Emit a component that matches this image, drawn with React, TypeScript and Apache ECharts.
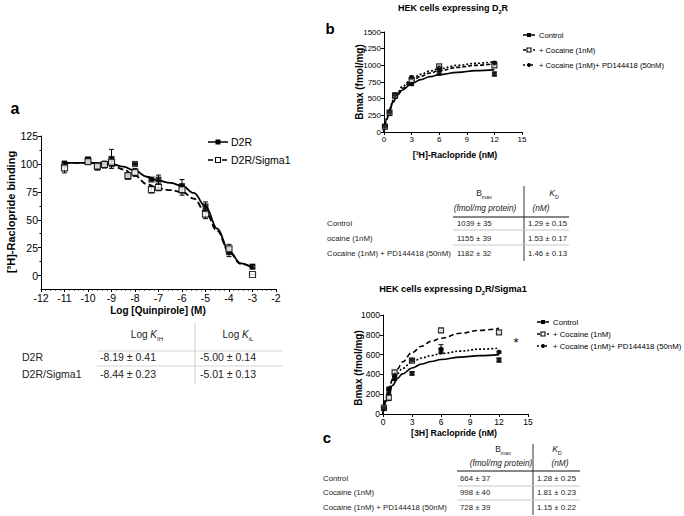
import React, { useEffect, useRef } from "react";
import * as echarts from "echarts";

const FONT = '"Liberation Sans", Arial, Helvetica, sans-serif';

// ---------- Panel a: competition binding ----------
const aX = [-11, -10, -9.6, -9.3, -9, -8.3, -8, -7.3, -7, -6, -5, -4, -3];
const aD2R = [100, 104, 97, 99, 104.5, 88.5, 100, 86, 86, 80, 62, 21, 8];
const aD2RErr = [2.5, 2, 2.5, 2.5, 8.5, 2, 0, 1, 4, 6, 4, 4, 2];
const aSigma = [96.5, 102, 98, 99.5, 101.5, 89.5, 92.5, 77, 79, 77, 55, 24, 1];
const aSigmaErr = [4.5, 2, 2, 3, 4, 2, 3.5, 3, 3, 5, 4, 4, 0];
const aFitX = [-11, -10, -9.5, -9, -8.5, -8, -7.5, -7, -6.5, -6, -5.5, -5, -4.5, -4, -3.5, -3];
const aFitD2R = [101, 101, 100.8, 100, 97.5, 94, 88.5, 85, 83, 80.5, 74, 62, 42, 22, 11, 7];
const aFitSigma = [101, 101, 100.5, 99, 95, 89.5, 82, 78, 76.5, 75, 69, 57, 40, 21, 10.5, 7];
const aYTicks = [0, 25, 50, 75, 100, 125];
const aYMinorTicks = [12.5, 37.5, 62.5, 87.5, 112.5];

// ---------- Panel b: saturation binding, D2R ----------
const satX = [0.1, 0.6, 1.2, 3, 6, 12];
const bControl = [75, 275, 535, 725, 885, 870];
const bControlErr = [10, 15, 20, 25, 30, 30];
const bCocaine = [80, 290, 550, 780, 985, 1000];
const bCocaineErr = [10, 15, 20, 25, 20, 25];
const bPD = [90, 300, 560, 820, 960, 1035];
const bPDErr = [10, 15, 20, 20, 25, 20];
const fitX = [0, 0.3, 0.6, 1, 1.5, 2, 3, 4, 5, 6, 8, 10, 12];
const bFitControl = [0, 190, 330, 450, 560, 630, 725, 785, 830, 860, 895, 920, 935];
const bFitCocaine = [0, 190, 325, 455, 570, 655, 765, 835, 885, 920, 970, 1000, 1025];
const bFitPD = [0, 200, 345, 480, 600, 685, 795, 865, 915, 950, 1000, 1030, 1055];

// ---------- Panel b (lower): saturation binding, D2R/Sigma1 ----------
const cControl = [55, 230, 360, 410, 640, 545];
const cControlErr = [15, 30, 20, 15, 25, 20];
const cCocaine = [65, 165, 420, 540, 845, 825];
const cCocaineErr = [10, 30, 15, 15, 20, 15];
const cPD = [60, 255, 390, 545, 655, 625];
const cPDErr = [10, 15, 15, 10, 45, 10];
const cFitControl = [0, 125, 210, 290, 360, 405, 465, 505, 530, 550, 575, 590, 600];
const cFitCocaine = [0, 140, 250, 355, 455, 525, 620, 685, 735, 765, 815, 845, 865];
const cFitPD = [0, 150, 250, 340, 410, 460, 525, 565, 590, 610, 635, 655, 665];

// ---------- Tables ----------
const tableARows = ["D2R", "D2R/Sigma1"];
const tableAKiH = ["-8.19 ± 0.41", "-8.44 ± 0.23"];
const tableAKiL = ["-5.00 ± 0.14", "-5.01 ± 0.13"];
const tableBRows = ["Control", "ocaine (1nM)", "Cocaine (1nM) + PD144418 (50nM)"];
const tableBBmax = ["1039 ± 35", "1155 ± 39", "1182 ± 32"];
const tableBKd = ["1.29 ± 0.15", "1.53 ± 0.17", "1.46 ± 0.13"];
const tableCRows = ["Control", "Cocaine (1nM)", "Cocaine (1nM) + PD144418 (50nM)"];
const tableCBmax = ["664 ± 37", "998 ± 40", "728 ± 39"];
const tableCKd = ["1.28 ± 0.25", "1.81 ± 0.23", "1.15 ± 0.22"];

const legendA = ["D2R", "D2R/Sigma1"];
const legendB = ["Control", "+ Cocaine (1nM)", "+ Cocaine (1nM)+ PD144418 (50nM)"];

const zip = (xs: number[], ys: number[]) => xs.map((x, i) => [x, ys[i]]);
const zip3 = (xs: number[], ys: number[], es: number[]) => xs.map((x, i) => [x, ys[i], es[i]]);

function errSeries(xi: number, data: number[][]) {
  return {
    type: "custom",
    xAxisIndex: xi,
    yAxisIndex: xi,
    z: 2,
    silent: true,
    encode: { x: 0, y: 1 },
    data,
    renderItem: (params: any, api: any) => {
      const x = api.value(0);
      const y = api.value(1);
      const e = api.value(2);
      const t = api.coord([x, y + e]);
      const b = api.coord([x, y - e]);
      const w = 2.5;
      const st = { stroke: "#000", lineWidth: 1 };
      return {
        type: "group",
        children: [
          { type: "line", shape: { x1: t[0], y1: t[1], x2: b[0], y2: b[1] }, style: st },
          { type: "line", shape: { x1: t[0] - w, y1: t[1], x2: t[0] + w, y2: t[1] }, style: st },
          { type: "line", shape: { x1: b[0] - w, y1: b[1], x2: b[0] + w, y2: b[1] }, style: st },
        ],
      };
    },
  };
}

type Kind = "filled" | "open" | "circle";
function markerStyle(kind: Kind) {
  if (kind === "open") return { symbol: "rect", itemStyle: { color: "#fff", borderColor: "#000", borderWidth: 1.2 } };
  if (kind === "circle") return { symbol: "circle", itemStyle: { color: "#000" } };
  return { symbol: "rect", itemStyle: { color: "#000" } };
}
function scatterSeries(xi: number, data: number[][], kind: Kind, size: number) {
  const m = markerStyle(kind);
  return { type: "scatter", xAxisIndex: xi, yAxisIndex: xi, z: 4, data, symbolSize: size, symbol: m.symbol, itemStyle: m.itemStyle, silent: true };
}
function fitSeries(xi: number, data: number[][], dash: any, width: number) {
  return {
    type: "line",
    xAxisIndex: xi,
    yAxisIndex: xi,
    z: 3,
    data,
    smooth: 0.4,
    smoothMonotone: "x",
    showSymbol: false,
    symbol: "none",
    silent: true,
    lineStyle: { color: "#000", width, type: dash },
  };
}

function txt(x: number, y: number, text: string, size: number, o: any = {}) {
  return {
    type: "text",
    x,
    y,
    rotation: o.rotation || 0,
    silent: true,
    z: 10,
    style: {
      text,
      fontSize: size,
      fontFamily: FONT,
      fontWeight: o.bold ? "bold" : "normal",
      fontStyle: o.italic ? "italic" : "normal",
      fill: o.fill || "#000",
      align: o.align || "left",
      verticalAlign: "middle",
      rich: o.rich,
    },
  };
}
function hline(x1: number, x2: number, y: number, color: string, w = 1) {
  return { type: "line", silent: true, shape: { x1, y1: y, x2, y2: y }, style: { stroke: color, lineWidth: w } };
}
function vline(x: number, y1: number, y2: number, color: string, w = 1) {
  return { type: "line", silent: true, shape: { x1: x, y1, x2: x, y2 }, style: { stroke: color, lineWidth: w } };
}
function legendItem(x1: number, x2: number, y: number, kind: Kind, dash: number[] | null, tx: number, text: string, size: number, ms: number) {
  const els: any[] = [];
  els.push({ type: "line", silent: true, shape: { x1, y1: y, x2, y2: y }, style: { stroke: "#000", lineWidth: 1.5, lineDash: dash || undefined } });
  const cx = (x1 + x2) / 2;
  if (kind === "circle") {
    els.push({ type: "circle", silent: true, shape: { cx, cy: y, r: ms / 2 }, style: { fill: "#000" } });
  } else {
    els.push({
      type: "rect",
      silent: true,
      shape: { x: cx - ms / 2, y: y - ms / 2, width: ms, height: ms },
      style: kind === "open" ? { fill: "#fff", stroke: "#000", lineWidth: 1.1 } : { fill: "#000" },
    });
  }
  els.push(txt(tx, y, text, size));
  return els;
}

const subRich = (size: number, extra: any = {}) => ({
  n: { fontSize: size, fontFamily: FONT, lineHeight: size + 4, fill: extra.fill || "#000", fontWeight: extra.bold ? "bold" : "normal" },
  i: { fontSize: size, fontFamily: FONT, lineHeight: size + 4, fontStyle: "italic", fill: extra.fill || "#000" },
  s: { fontSize: size * 0.62, fontFamily: FONT, lineHeight: size * 0.7, verticalAlign: "bottom", fill: extra.fill || "#000", fontWeight: extra.bold ? "bold" : "normal" },
});

const plain = (v: number) => String(v);
function axisCommon(size: number) {
  return {
    axisLine: { show: true, onZero: false, lineStyle: { color: "#000", width: 1 } },
    axisTick: { show: true, length: 3, lineStyle: { color: "#000", width: 1 } },
    splitLine: { show: false },
    axisLabel: { color: "#000", fontSize: size, fontFamily: FONT, margin: 3, formatter: plain },
  };
}

export default function App() {
  const ref = useRef<HTMLDivElement>(null);
  useEffect(() => {
    if (!ref.current) return;
    const chart = echarts.init(ref.current, null, { renderer: "svg" });

    const TC = "#222";
    const graphics: any[] = [];
    // panel letters
    graphics.push(txt(15, 108, "a", 16, { bold: true, align: "center" }));
    graphics.push(txt(330, 28, "b", 15, { bold: true, align: "center" }));
    graphics.push(txt(327, 437, "c", 15, { bold: true, align: "center" }));

    // panel a titles
    graphics.push(txt(11, 212, "[³H]-Raclopride binding", 11, { bold: true, align: "center", rotation: Math.PI / 2 }));
    graphics.push(txt(158, 310, "Log [Quinpirole] (M)", 10, { bold: true, align: "center" }));
    graphics.push(...legendItem(208, 228, 142, "filled", null, 231, legendA[0], 10.5, 5));
    graphics.push(...legendItem(208, 228, 160, "open", [5, 2], 231, legendA[1], 10.5, 5));

    // table a
    graphics.push(txt(147, 334, "{n|Log }{i|K}{s|IH}", 10, { align: "center", rich: subRich(10, { fill: TC }) }));
    graphics.push(txt(238, 334, "{n|Log }{i|K}{s|iL}", 10, { align: "center", rich: subRich(10, { fill: TC }) }));
    graphics.push(vline(195, 323, 384, "#ccc"));
    graphics.push(hline(97, 283, 351, "#d5d5d5"));
    graphics.push(hline(97, 283, 366, "#d5d5d5"));
    tableARows.forEach((r, i) => {
      const y = 357 + i * 17;
      graphics.push(txt(22, y, r, 10.5, { fill: TC }));
      graphics.push(txt(100, y, tableAKiH[i], 10.5, { fill: TC }));
      graphics.push(txt(200, y, tableAKiL[i], 10.5, { fill: TC }));
    });

    // panel b upper
    graphics.push(txt(453, 8, "{n|HEK cells expressing D}{s|2}{n|R}", 9, { align: "center", rich: subRich(9, { bold: true }) }));
    graphics.push(txt(359, 82, "Bmax (fmol/mg)", 10, { bold: true, align: "center", rotation: Math.PI / 2 }));
    graphics.push(txt(455, 155, "[³H]-Raclopride (nM)", 8.8, { bold: true, align: "center" }));
    graphics.push(...legendItem(523, 535, 35, "filled", null, 539, legendB[0], 7.6, 4));
    graphics.push(...legendItem(523, 535, 50, "open", [3, 2], 539, legendB[1], 7.6, 4));
    graphics.push(...legendItem(523, 535, 65, "circle", [2, 2], 539, legendB[2], 7.6, 4));

    // table b
    graphics.push(txt(484, 193, "{n|B}{s|max}", 8.5, { align: "center", rich: subRich(8.5, { fill: TC }) }));
    graphics.push(txt(554, 193, "{i|K}{s|D}", 8.5, { align: "center", rich: subRich(8.5, { fill: TC }) }));
    graphics.push(txt(485, 208, "(fmol/mg protein)", 8.3, { italic: true, align: "center", fill: TC }));
    graphics.push(txt(541, 208, "(nM)", 8.3, { italic: true, align: "center", fill: TC }));
    graphics.push(vline(524, 186, 261, "#333"));
    graphics.push(hline(453, 569, 217, "#111"));
    graphics.push(hline(453, 569, 230, "#c8c8c8"));
    graphics.push(hline(453, 569, 245, "#c8c8c8"));
    tableBRows.forEach((r, i) => {
      const y = 223 + i * 15;
      graphics.push(txt(327, y, r, 7.8, { fill: TC }));
      graphics.push(txt(457, y, tableBBmax[i], 7.8, { fill: TC }));
      graphics.push(txt(528, y, tableBKd[i], 7.8, { fill: TC }));
    });

    // panel b lower
    graphics.push(txt(453, 289, "{n|HEK cells expressing D}{s|2}{n|R/Sigma1}", 9.2, { align: "center", rich: subRich(9.2, { bold: true }) }));
    graphics.push(txt(358, 368, "Bmax (fmol/mg)", 10, { bold: true, align: "center", rotation: Math.PI / 2 }));
    graphics.push(txt(454, 433, "[3H] Raclopride (nM)", 8.8, { bold: true, align: "center" }));
    graphics.push(...legendItem(537, 549, 322, "filled", null, 553, legendB[0], 7.8, 4));
    graphics.push(...legendItem(537, 549, 334, "open", [3, 2], 553, legendB[1], 7.8, 4));
    graphics.push(...legendItem(537, 549, 346, "circle", [2, 2], 553, legendB[2], 7.8, 4));
    graphics.push(txt(516, 342, "*", 13, { align: "center" }));

    // table c
    graphics.push(txt(503, 449, "{n|B}{s|max}", 8.5, { align: "center", rich: subRich(8.5, { fill: TC }) }));
    graphics.push(txt(557, 449, "{i|K}{s|D}", 8.5, { align: "center", rich: subRich(8.5, { fill: TC }) }));
    graphics.push(txt(501, 463, "(fmol/mg protein)", 8.3, { italic: true, align: "center", fill: TC }));
    graphics.push(txt(560, 463, "(nM)", 8.3, { italic: true, align: "center", fill: TC }));
    graphics.push(vline(533, 444, 515, "#333"));
    graphics.push(hline(457, 580, 471, "#111"));
    graphics.push(hline(457, 580, 486, "#c8c8c8"));
    graphics.push(hline(457, 580, 500, "#c8c8c8"));
    tableCRows.forEach((r, i) => {
      const y = 478 + i * 14.5;
      graphics.push(txt(323, y, r, 7.8, { fill: TC }));
      graphics.push(txt(460, y, tableCBmax[i], 7.8, { fill: TC }));
      graphics.push(txt(537, y, tableCKd[i], 7.8, { fill: TC }));
    });

    const option: any = {
      animation: false,
      backgroundColor: "#fff",
      grid: [
        { left: 41, top: 136, width: 235, height: 153 },
        { left: 384, top: 32, width: 138, height: 100 },
        { left: 383, top: 315, width: 145, height: 99 },
      ],
      xAxis: [
        {
          ...axisCommon(10.5),
          gridIndex: 0,
          type: "value",
          min: -12,
          max: -2,
          interval: 1,
          minorTick: { show: true, splitNumber: 5, length: 1.5, lineStyle: { color: "#000" } },
        },
        { ...axisCommon(8), gridIndex: 1, type: "value", min: 0, max: 15, interval: 3 },
        { ...axisCommon(8.5), gridIndex: 2, type: "value", min: 0, max: 15, interval: 3 },
      ],
      yAxis: [
        (() => {
          const c: any = axisCommon(10.5);
          return {
            ...c,
            gridIndex: 0,
            type: "value",
            min: -12,
            max: 125,
            axisLabel: { ...c.axisLabel, customValues: aYTicks },
            axisTick: { ...c.axisTick, customValues: aYTicks },
          };
        })(),
        { ...axisCommon(8), gridIndex: 1, type: "value", min: 0, max: 1500, interval: 250 },
        { ...axisCommon(8.5), gridIndex: 2, type: "value", min: 0, max: 1000, interval: 200 },
        {
          gridIndex: 0,
          type: "value",
          min: -12,
          max: 125,
          position: "left",
          axisLine: { show: false, onZero: false },
          splitLine: { show: false },
          axisLabel: { show: false, customValues: aYMinorTicks },
          axisTick: { show: true, length: 1.5, customValues: aYMinorTicks, lineStyle: { color: "#000" } },
        },
      ],
      series: [
        fitSeries(0, zip(aFitX, aFitD2R), "solid", 1.8),
        fitSeries(0, zip(aFitX, aFitSigma), [6, 3], 1.8),
        errSeries(0, zip3(aX, aD2R, aD2RErr)),
        errSeries(0, zip3(aX, aSigma, aSigmaErr)),
        scatterSeries(0, zip(aX, aD2R), "filled", 6),
        scatterSeries(0, zip(aX, aSigma), "open", 6),

        fitSeries(1, zip(fitX, bFitControl), "solid", 1.6),
        fitSeries(1, zip(fitX, bFitCocaine), [4, 2], 1.6),
        fitSeries(1, zip(fitX, bFitPD), [2, 2], 1.6),
        errSeries(1, zip3(satX, bControl, bControlErr)),
        errSeries(1, zip3(satX, bCocaine, bCocaineErr)),
        errSeries(1, zip3(satX, bPD, bPDErr)),
        scatterSeries(1, zip(satX, bControl), "filled", 5),
        scatterSeries(1, zip(satX, bCocaine), "open", 5),
        scatterSeries(1, zip(satX, bPD), "circle", 5),

        fitSeries(2, zip(fitX, cFitControl), "solid", 1.6),
        fitSeries(2, zip(fitX, cFitCocaine), [5, 3], 1.6),
        fitSeries(2, zip(fitX, cFitPD), [2, 2], 1.6),
        errSeries(2, zip3(satX, cControl, cControlErr)),
        errSeries(2, zip3(satX, cCocaine, cCocaineErr)),
        errSeries(2, zip3(satX, cPD, cPDErr)),
        scatterSeries(2, zip(satX, cControl), "filled", 5),
        scatterSeries(2, zip(satX, cCocaine), "open", 5),
        scatterSeries(2, zip(satX, cPD), "circle", 5),
      ],
      graphic: graphics,
    };
    chart.setOption(option);
    return () => chart.dispose();
  }, []);
  return (
    <div
      ref={ref}
      style={{ position: "fixed", left: 0, top: 0, width: 684, height: 516, background: "#fff" }}
    />
  );
}
